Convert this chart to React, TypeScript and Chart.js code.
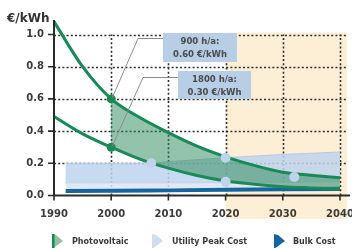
import React, { useEffect, useRef } from 'react';
import { Chart, registerables } from 'chart.js';

Chart.register(...registerables);

// ---- data ----
const pvYears = [1990, 1995, 2000, 2005, 2010, 2015, 2020, 2025, 2030, 2035, 2040];
const pv900 = [1.08, 0.8, 0.6, 0.484, 0.39, 0.306, 0.24, 0.187, 0.145, 0.126, 0.11];
const pv1800 = [0.49, 0.383, 0.3, 0.226, 0.17, 0.124, 0.09, 0.07, 0.055, 0.047, 0.04];
const bandYears = [1992, 2000, 2007, 2010, 2020, 2030, 2040];
const peakUpper = [0.2, 0.2, 0.2, 0.21, 0.235, 0.255, 0.27];
const peakLower = [0.078, 0.078, 0.078, 0.078, 0.08, 0.082, 0.085];
const bulkUpper = [0.04, 0.042, 0.043, 0.044, 0.048, 0.052, 0.055];
const bulkLower = [0.015, 0.017, 0.019, 0.02, 0.023, 0.026, 0.028];
const crossYears = [2007, 2020, 2020, 2032];
const crossValues = [0.2, 0.235, 0.085, 0.115];
const xTicks = [1990, 2000, 2010, 2020, 2030, 2040];
const yTicks = [0, 0.2, 0.4, 0.6, 0.8, 1.0];
const legendLabels = ['Photovoltaic', 'Utility Peak Cost', 'Bulk Cost'];
const noteLines900 = ['900 h/a:', '0.60 €/kWh'];
const noteLines1800 = ['1800 h/a:', '0.30 €/kWh'];
const unitLabel = '€/kWh';
const forecastStart = 2020;
const fillStart = 2000;

const GREEN = '#178a58';
const PV_FILL = 'rgba(40,135,85,0.5)';
const PEAK = 'rgba(190,211,236,0.85)';
const PEAK_PALE = 'rgba(218,229,243,0.85)';
const BULK = '#15659e';
const FONT = '"DejaVu Sans", sans-serif';
const TEXT = '#3a3a3a';

const pts = (xs: number[], ys: number[]) => xs.map((x, i) => ({ x, y: ys[i] }));

const decor = {
  id: 'decor',
  beforeDraw(chart: any) {
    const { ctx, scales } = chart;
    const x = scales.x, y = scales.y;
    const l = x.getPixelForValue(forecastStart);
    const t = y.getPixelForValue(1.0) - 2;
    ctx.save();
    ctx.fillStyle = '#fdefd6';
    ctx.fillRect(l, t, x.getPixelForValue(2040) + 7 - l, 219 - t);
    ctx.restore();
  },
  beforeDatasetsDraw(chart: any) {
    const { ctx, scales } = chart;
    const x = scales.x, y = scales.y;
    ctx.save();
    ctx.strokeStyle = '#2e2e2e';
    ctx.lineWidth = 1.6;
    ctx.setLineDash([2, 2.2]);
    const x0 = x.getPixelForValue(1990);
    yTicks.slice(1).forEach((v) => {
      const py = Math.round(y.getPixelForValue(v)) + 0.5;
      ctx.beginPath();
      ctx.moveTo(x0, py);
      ctx.lineTo(x.getPixelForValue(2040) + 7, py);
      ctx.stroke();
    });
    xTicks.slice(1).forEach((v) => {
      const px = Math.round(x.getPixelForValue(v)) + 0.5;
      ctx.beginPath();
      ctx.moveTo(px, y.getPixelForValue(0));
      ctx.lineTo(px, y.getPixelForValue(1.0));
      ctx.stroke();
    });
    ctx.restore();
  },
  afterDatasetsDraw(chart: any) {
    const { ctx, scales } = chart;
    const x = scales.x, y = scales.y;
    ctx.save();
    // axes
    ctx.strokeStyle = '#2a2a2a';
    ctx.lineWidth = 2;
    const ax = x.getPixelForValue(1990);
    const ay = y.getPixelForValue(0);
    ctx.beginPath();
    ctx.moveTo(ax, ay + 1);
    ctx.lineTo(ax, y.getPixelForValue(1.09));
    ctx.moveTo(ax - 1, ay);
    ctx.lineTo(350, ay);
    ctx.stroke();
    ctx.lineWidth = 1.6;
    ctx.beginPath();
    yTicks.forEach((v) => {
      const py = y.getPixelForValue(v);
      ctx.moveTo(ax - 6, py);
      ctx.lineTo(ax, py);
    });
    xTicks.forEach((v) => {
      const px = x.getPixelForValue(v);
      ctx.moveTo(px, ay);
      ctx.lineTo(px, ay + 5);
    });
    ctx.stroke();

    // leader lines
    ctx.strokeStyle = '#8c8c8c';
    ctx.lineWidth = 1;
    const p1x = x.getPixelForValue(2000), p1y = y.getPixelForValue(0.6);
    const p2y = y.getPixelForValue(0.3);
    ctx.beginPath();
    ctx.moveTo(163, 38.5);
    ctx.lineTo(138, 38.5);
    ctx.lineTo(p1x + 1, p1y - 1);
    ctx.moveTo(178, 77.5);
    ctx.lineTo(143, 77.5);
    ctx.lineTo(p1x + 1, p2y - 1);
    ctx.stroke();

    // note boxes
    const box = (bx: number, by: number, bw: number, bh: number, lines: string[]) => {
      ctx.fillStyle = '#b7cee6';
      ctx.fillRect(bx, by, bw, bh);
      ctx.fillStyle = '#4a4a4a';
      ctx.font = `bold 8.5px ${FONT}`;
      ctx.textAlign = 'center';
      ctx.textBaseline = 'middle';
      ctx.fillText(lines[0], bx + bw / 2, by + 9);
      ctx.fillText(lines[1], bx + bw / 2, by + 22);
    };
    box(163, 33, 74, 29, noteLines900);
    box(178, 71, 73, 28, noteLines1800);
    ctx.restore();
  },
  afterDraw(chart: any) {
    const { ctx } = chart;
    ctx.save();
    ctx.fillStyle = '#333';
    ctx.font = `bold 12px ${FONT}`;
    ctx.textAlign = 'left';
    ctx.textBaseline = 'alphabetic';
    ctx.fillText(unitLabel, 7, 22);

    // legend
    const items = [
      { ix: 52, tx: 72, fill: '#8fc1a1', stroke: GREEN },
      { ix: 152, tx: 172, fill: '#cddcf0', stroke: '#c2d5ec' },
      { ix: 274, tx: 293, fill: BULK, stroke: BULK },
    ];
    items.forEach((it, i) => {
      ctx.beginPath();
      ctx.moveTo(it.ix, 234);
      ctx.lineTo(it.ix + 4, 235);
      ctx.lineTo(it.ix + 11, 241);
      ctx.lineTo(it.ix, 249);
      ctx.closePath();
      ctx.fillStyle = it.fill;
      ctx.fill();
      if (i === 0) {
        ctx.fillStyle = it.stroke;
        ctx.fillRect(it.ix, 234, 2.5, 15);
      }
      ctx.fillStyle = TEXT;
      ctx.font = `bold 8px ${FONT}`;
      ctx.textBaseline = 'middle';
      ctx.textAlign = 'left';
      ctx.fillText(legendLabels[i], it.tx, 242);
    });
    ctx.restore();
  },
};

const pvFill = (c: any) => {
  const chart = c.chart;
  const area = chart.chartArea;
  const xs = chart.scales && chart.scales.x;
  if (!area || !xs) return 'rgba(0,0,0,0)';
  const x0 = xs.getPixelForValue(fillStart);
  const f = Math.min(1, Math.max(0, (x0 - area.left) / (area.right - area.left)));
  const g = chart.ctx.createLinearGradient(area.left, 0, area.right, 0);
  g.addColorStop(0, 'rgba(0,0,0,0)');
  g.addColorStop(f, 'rgba(0,0,0,0)');
  g.addColorStop(f, PV_FILL);
  g.addColorStop(1, PV_FILL);
  return g;
};

export default function App() {
  const ref = useRef<HTMLCanvasElement>(null);
  useEffect(() => {
    if (!ref.current) return;
    const dotAt2000 = (c: any) => (c.raw && c.raw.x === 2000 ? 4.5 : 0);
    const chart = new Chart(ref.current, {
      type: 'line',
      data: {
        datasets: [
          {
            label: 'cross',
            data: pts(crossYears, crossValues),
            showLine: false,
            pointRadius: 5,
            pointBackgroundColor: '#bdd4eb',
            pointBorderWidth: 0,
            fill: false,
          },
          {
            label: 'Photovoltaic 900',
            data: pts(pvYears, pv900),
            borderColor: GREEN,
            borderWidth: 3,
            cubicInterpolationMode: 'monotone',
            backgroundColor: pvFill,
            fill: '+1',
            pointRadius: dotAt2000,
            pointBackgroundColor: GREEN,
            pointBorderWidth: 0,
          },
          {
            label: 'Photovoltaic 1800',
            data: pts(pvYears, pv1800),
            borderColor: GREEN,
            borderWidth: 3,
            cubicInterpolationMode: 'monotone',
            fill: false,
            pointRadius: dotAt2000,
            pointBackgroundColor: GREEN,
            pointBorderWidth: 0,
          },
          {
            label: 'Bulk Cost',
            data: pts(bandYears, bulkUpper),
            borderWidth: 0,
            borderColor: BULK,
            backgroundColor: BULK,
            fill: '+1',
            pointRadius: 0,
          },
          {
            label: 'Bulk low',
            data: pts(bandYears, bulkLower),
            borderWidth: 0,
            borderColor: BULK,
            fill: false,
            pointRadius: 0,
          },
          {
            label: 'Utility Peak Cost',
            data: pts(bandYears, peakUpper),
            borderWidth: 1,
            borderColor: '#b4cbe6',
            backgroundColor: PEAK,
            fill: '+1',
            pointRadius: 0,
          },
          {
            label: 'Peak low',
            data: pts(bandYears, peakLower),
            borderWidth: 1,
            borderColor: '#c6d6ea',
            backgroundColor: PEAK_PALE,
            fill: 3,
            pointRadius: 0,
          },
        ],
      },
      options: {
        animation: false,
        responsive: false,
        devicePixelRatio: 1,
        layout: { padding: { left: 0, right: 6.3, top: 18.4, bottom: 0 } },
        plugins: { legend: { display: false }, tooltip: { enabled: false } },
        scales: {
          x: {
            type: 'linear',
            min: 1990,
            max: 2041,
            grid: { display: false, drawTicks: false },
            border: { display: false },
            afterBuildTicks: (s: any) => {
              s.ticks = xTicks.map((v) => ({ value: v }));
            },
            afterFit: (s: any) => {
              s.height = 52.5;
              s.paddingLeft = 0;
              s.paddingRight = 0;
            },
            ticks: {
              padding: 13,
              color: TEXT,
              font: { family: FONT, weight: 'bold', size: 10 },
              callback: (v: any) => String(v),
              maxRotation: 0,
            },
          },
          y: {
            type: 'linear',
            min: 0,
            max: 1.1,
            grid: { display: false, drawTicks: false },
            border: { display: false },
            afterBuildTicks: (s: any) => {
              s.ticks = yTicks.map((v) => ({ value: v }));
            },
            afterFit: (s: any) => {
              s.width = 54;
              s.paddingTop = 0;
              s.paddingBottom = 0;
            },
            ticks: {
              padding: 10,
              color: TEXT,
              font: { family: FONT, weight: 'bold', size: 10 },
              callback: (v: any) => Number(v).toFixed(1),
            },
          },
        },
      },
      plugins: [decor],
    } as any);
    return () => chart.destroy();
  }, []);
  return (
    <div style={{ position: 'absolute', left: 0, top: 0, width: 352, height: 248, background: '#fff' }}>
      <canvas ref={ref} width={352} height={248} />
    </div>
  );
}
